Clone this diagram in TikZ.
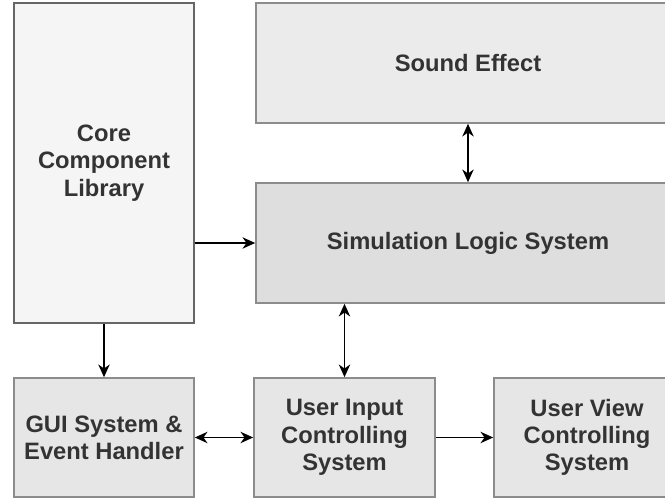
\documentclass[tikz,border=0pt]{standalone}
\usepackage{fontspec}
\setmainfont{Liberation Sans}
\usetikzlibrary{arrows.meta}
\definecolor{txt}{HTML}{333333}
\definecolor{bdark}{HTML}{666666}
\definecolor{bmid}{HTML}{8C8C8C}
\definecolor{fcore}{HTML}{F5F5F5}
\definecolor{fsound}{HTML}{EBEBEB}
\definecolor{fsim}{HTML}{DEDEDE}
\definecolor{fbox}{HTML}{E6E6E6}
\tikzset{
  tip/.tip={Stealth[length=9.5pt,width=8.5pt,inset=3pt]},
  blk/.style={draw=bmid, line width=1.2pt, rectangle, align=center, text=txt,
    font=\fontsize{17.8pt}{20.5pt}\selectfont\bfseries, inner sep=0pt},
  arr/.style={draw=black, line width=1.4pt, -tip},
  darr/.style={draw=black, line width=1.4pt, tip-tip}
}
\begin{document}
\begin{tikzpicture}[x=0.75pt,y=-0.75pt]
\useasboundingbox (0,0) rectangle (665,498);
\node[blk, draw=bdark, fill=fcore, minimum width=135pt, minimum height=240pt] (core) at (104,163) {Core\\Component\\Library};
\node[blk, fill=fsound, minimum width=318pt, minimum height=90pt] (sound) at (468,63) {Sound Effect};
\node[blk, fill=fsim, minimum width=318pt, minimum height=90pt] (sim) at (468,243) {Simulation Logic System};
\node[blk, fill=fbox, minimum width=135pt, minimum height=89.25pt] (gui) at (104,437.5) {GUI System \&\\Event Handler};
\node[blk, fill=fbox, minimum width=135.75pt, minimum height=89.25pt] (uin) at (344.5,437.5) {User Input\\Controlling\\System};
\node[blk, fill=fbox, minimum width=139.5pt, minimum height=89.25pt] (uview) at (587,437.5) {User View\\Controlling\\System};
\draw[arr] (core.east |- sim.west) -- (sim.west);
\draw[darr] (sound.south) -- (sim.north);
\draw[arr] (core.south) -- (gui.north);
\draw[darr] (uin.north |- sim.south) -- (uin.north);
\draw[darr] (gui.east) -- (uin.west);
\draw[arr] (uin.east) -- (uview.west);
\end{tikzpicture}
\end{document}
